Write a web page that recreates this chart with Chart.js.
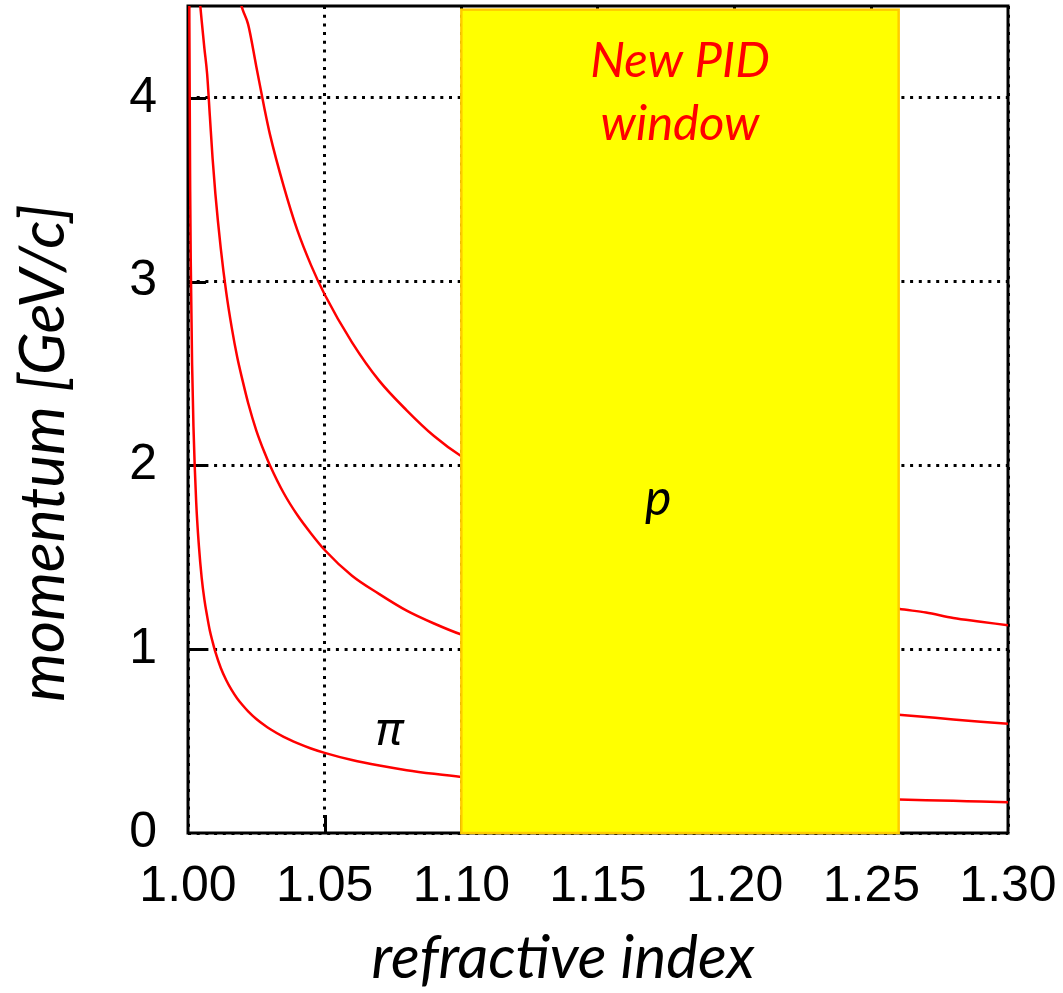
<!DOCTYPE html>
<html>
<head>
<meta charset="utf-8">
<script src="https://cdn.jsdelivr.net/npm/chart.js@4.4.0/dist/chart.umd.min.js"></script>
<style>
  html, body { margin: 0; padding: 0; background: #fff; }
</style>
</head>
<body>
<canvas id="myChart" width="1063" height="993"></canvas>
<script>
// refractive index samples (x) and threshold momentum (GeV/c)
const refractiveIndex = [1.0003, 1.0005, 1.0008, 1.001, 1.0015, 1.002, 1.003, 1.004, 1.005, 1.006,
    1.007, 1.008, 1.009, 1.01, 1.012, 1.014, 1.016, 1.018, 1.02, 1.022,
    1.025, 1.028, 1.03, 1.035, 1.04, 1.045, 1.05, 1.06, 1.07, 1.08,
    1.09, 1.10, 1.15, 1.20, 1.25, 1.26, 1.27, 1.28, 1.29, 1.30];
const pion = [5.70, 4.41, 3.49, 3.12, 2.55, 2.21, 1.80, 1.56, 1.39, 1.27,
    1.18, 1.10, 1.04, 0.985, 0.898, 0.831, 0.777, 0.732, 0.695, 0.662,
    0.620, 0.586, 0.566, 0.523, 0.489, 0.460, 0.436, 0.397, 0.367, 0.342,
    0.322, 0.305, 0.246, 0.210, 0.186, 0.182, 0.178, 0.175, 0.171, 0.168];
const kaon = [null, null, null, null, null, null, null, 4.58, 4.42, 4.27,
    4.13, 3.90, 3.67, 3.48, 3.18, 2.94, 2.75, 2.59, 2.46, 2.34,
    2.19, 2.07, 2.00, 1.85, 1.73, 1.63, 1.54, 1.40, 1.30, 1.21,
    1.14, 1.08, 0.869, 0.744, 0.658, 0.644, 0.631, 0.618, 0.606, 0.594];
const proton = [null, null, null, null, null, null, null, null, null, null,
    null, null, null, null, null, null, null, 4.58, 4.48, 4.40,
    4.17, 3.94, 3.80, 3.52, 3.28, 3.09, 2.93, 2.67, 2.46, 2.30,
    2.16, 2.05, 1.65, 1.41, 1.25, 1.22, 1.20, 1.17, 1.15, 1.13];

// the highlighted PID window (refractive index range, momentum top)
const pidWindow = [1.10, 1.26];
const pidWindowTop = 4.48;

const toPoints = ys => refractiveIndex.map((n, i) => ({ x: n, y: ys[i] }));

const overlay = {
    id: 'overlay',
    beforeDatasetsDraw(chart) {
        const { ctx, chartArea: a, scales: { x, y } } = chart;
        ctx.save();
        ctx.strokeStyle = '#000';
        ctx.lineWidth = 3;
        // inward ticks
        y.ticks.forEach(t => {
            if (t.value <= 0 || t.value >= 4.5) return;
            const py = Math.round(y.getPixelForValue(t.value)) + 0.5;
            const len = Number.isInteger(t.value) ? 18 : 8;
            ctx.beginPath();
            ctx.moveTo(a.left, py);
            ctx.lineTo(a.left + len, py);
            ctx.stroke();
        });
        x.ticks.forEach(t => {
            if (t.value <= 1.0001 || t.value >= 1.2999) return;
            const px = Math.round(x.getPixelForValue(t.value)) + 0.5;
            ctx.beginPath();
            ctx.moveTo(px, a.bottom);
            ctx.lineTo(px, a.bottom - 18);
            ctx.stroke();
        });
        // frame
        ctx.strokeRect(a.left, a.top, a.right - a.left, a.bottom - a.top);
        ctx.restore();
    },
    afterDatasetsDraw(chart) {
        const { ctx, scales: { x, y } } = chart;
        ctx.save();
        // yellow window over the curves
        const x0 = x.getPixelForValue(pidWindow[0]);
        const x1 = x.getPixelForValue(pidWindow[1]);
        const y0 = y.getPixelForValue(0);
        const y1 = y.getPixelForValue(pidWindowTop);
        ctx.fillStyle = '#ffff00';
        ctx.fillRect(x0, y1, x1 - x0, y0 - y1);
        ctx.strokeStyle = '#ffcc00';
        ctx.lineWidth = 2.5;
        ctx.strokeRect(x0, y1, x1 - x0, y0 - y1);

        const cx = (x0 + x1) / 2;
        ctx.textAlign = 'center';
        ctx.textBaseline = 'alphabetic';
        ctx.fillStyle = '#ff0000';
        ctx.font = 'italic 49px Lato';
        ctx.fillText('New PID', cx, 77);
        ctx.fillText('window', cx, 140);

        ctx.fillStyle = '#000';
        ctx.font = 'italic 50px Lato';
        ctx.fillText('p', x.getPixelForValue(1.172), y.getPixelForValue(1.73));
        ctx.font = 'italic 46px "Noto Sans"';
        ctx.fillText('π', x.getPixelForValue(1.0735), y.getPixelForValue(0.555) + 14);

        // axis titles
        ctx.font = 'italic 60px Lato';
        ctx.fillText('refractive index', 563, 978);
        ctx.font = 'italic 62px Lato';
        ctx.translate(64, 453);
        ctx.rotate(-Math.PI / 2);
        ctx.fillText('momentum [GeV/c]', 0, 0);
        ctx.restore();
    }
};

const lineStyle = {
    borderColor: '#ff0000',
    borderWidth: 2.5,
    pointRadius: 0,
    fill: false,
    cubicInterpolationMode: 'monotone'
};

const ctx = document.getElementById('myChart').getContext('2d');
new Chart(ctx, {
    type: 'line',
    data: {
        datasets: [
            { label: 'pi', data: toPoints(pion), ...lineStyle },
            { label: 'K', data: toPoints(kaon), ...lineStyle },
            { label: 'p', data: toPoints(proton), ...lineStyle }
        ]
    },
    options: {
        responsive: false,
        animation: false,
        devicePixelRatio: 1,
        layout: { padding: { top: 6, right: 55, left: 0, bottom: 0 } },
        plugins: { legend: { display: false }, tooltip: { enabled: false } },
        scales: {
            x: {
                type: 'linear',
                min: 1.0,
                max: 1.3,
                afterFit: s => { s.height = 160; s.paddingLeft = 0; s.paddingRight = 0; },
                ticks: {
                    stepSize: 0.05,
                    autoSkip: false,
                    maxRotation: 0,
                    padding: 24,
                    color: '#000',
                    font: { family: '"Liberation Sans", Arial', size: 50 },
                    callback: v => v.toFixed(2)
                },
                grid: { color: '#000', lineWidth: 3, drawTicks: false },
                border: { display: false, dash: [3, 5.7] }
            },
            y: {
                min: 0,
                max: 4.5,
                afterFit: s => { s.width = 188; s.paddingTop = 0; s.paddingBottom = 0; },
                ticks: {
                    stepSize: 0.5,
                    autoSkip: false,
                    padding: 31,
                    color: '#000',
                    font: { family: '"Liberation Sans", Arial', size: 50 },
                    callback: v => Number.isInteger(v) ? String(v) : null
                },
                grid: { color: '#000', lineWidth: 3, drawTicks: false },
                border: { display: false, dash: [3, 5.7] }
            }
        }
    },
    plugins: [overlay]
});
</script>
</body>
</html>
